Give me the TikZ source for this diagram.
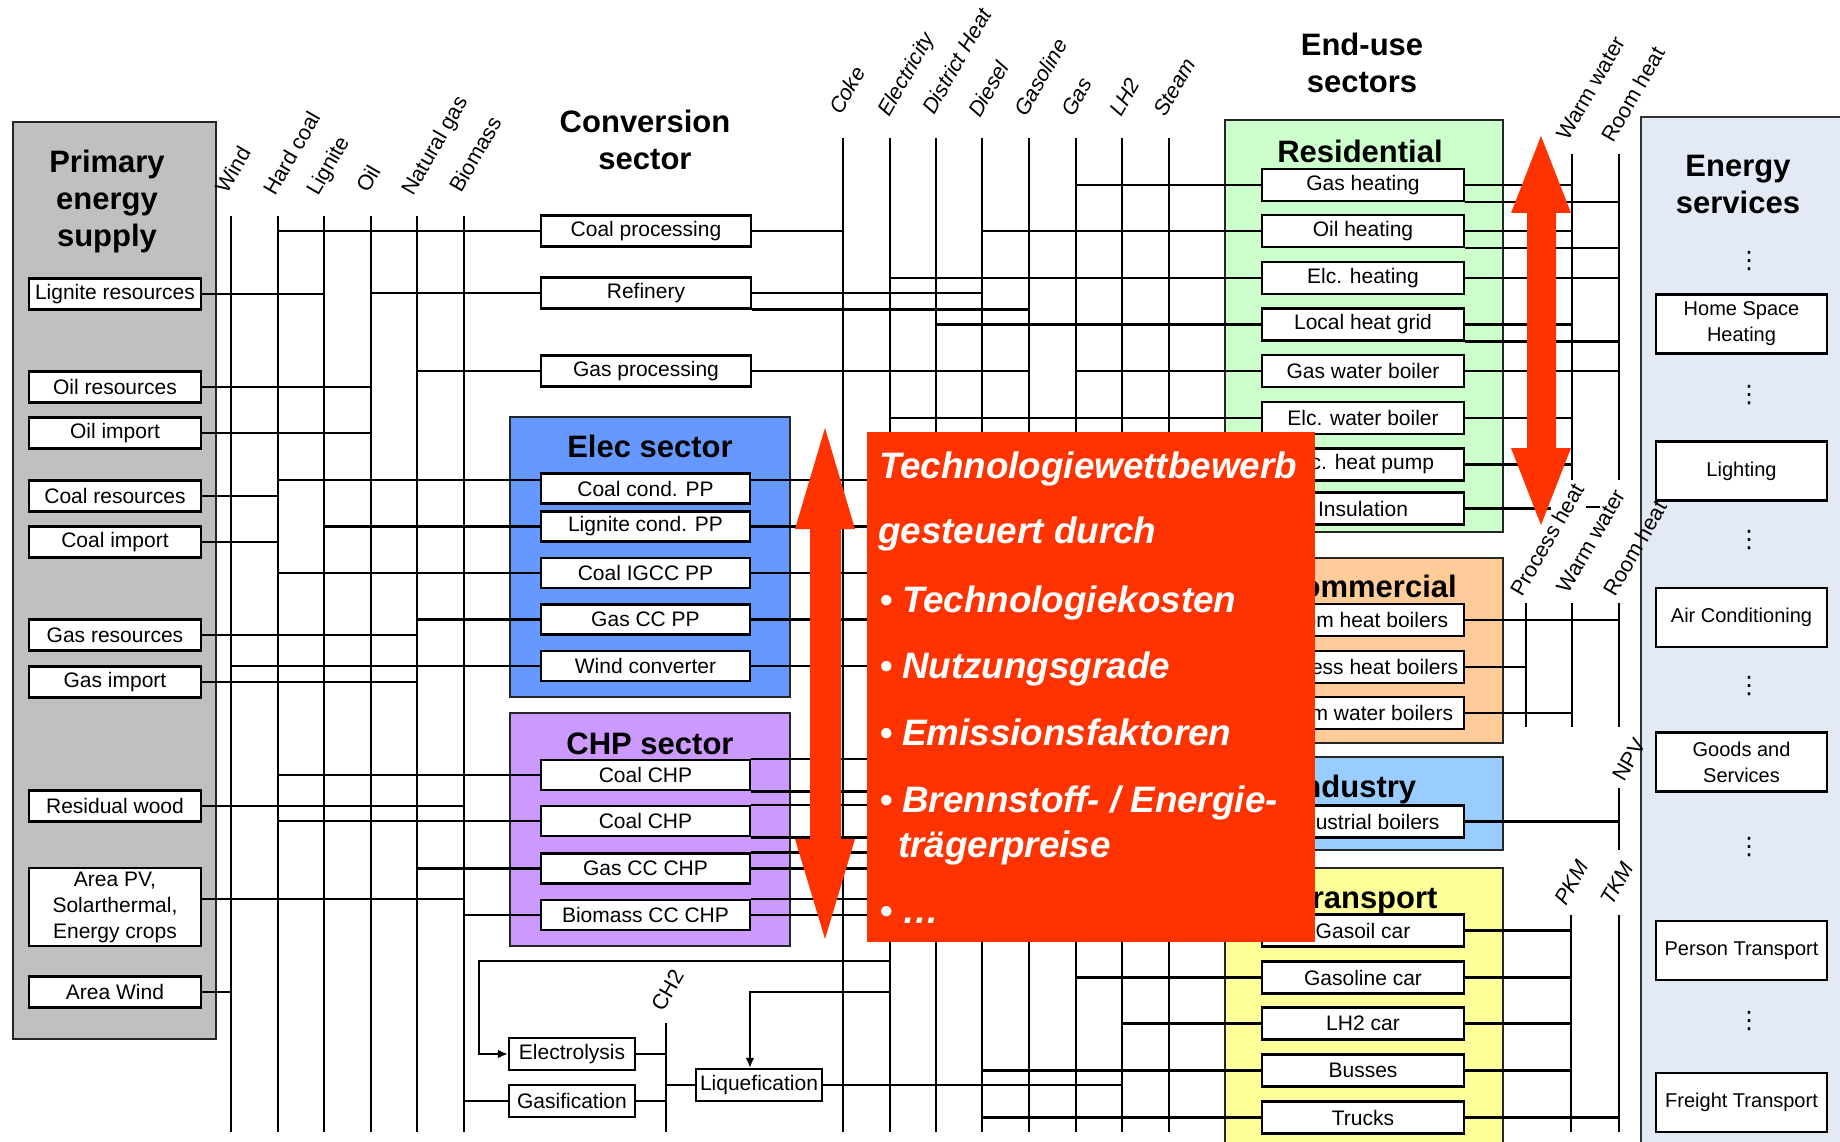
\documentclass[tikz,border=0pt]{standalone}
\usepackage{fontspec}
\setmainfont{Liberation Sans}
\newfontfamily\dejavu{DejaVu Sans}
\usetikzlibrary{arrows.meta,calc}
\pgfdeclarelayer{bg}\pgfdeclarelayer{wires}\pgfdeclarelayer{front}
\pgfsetlayers{bg,wires,main,front}
\definecolor{gbox}{RGB}{192,192,192}
\definecolor{resg}{RGB}{204,255,204}
\definecolor{comm}{RGB}{255,204,153}
\definecolor{indb}{RGB}{153,204,255}
\definecolor{trny}{RGB}{255,255,153}
\definecolor{elecb}{RGB}{102,153,255}
\definecolor{chpv}{RGB}{204,153,255}
\definecolor{serv}{RGB}{228,234,245}
\definecolor{redx}{RGB}{255,51,0}
\newcommand\fsz[2]{\fontsize{#1}{#2}\selectfont}
\begin{document}
\begin{tikzpicture}[x=1pt,y=-1pt,
 wire/.style={line width=2.6pt},
 thinw/.style={line width=2.2pt},
 sect/.style={draw=black!85,line width=2.4pt},
 bx/.style={draw,line width=2.4pt,fill=white,inner sep=0pt,minimum height=31pt,font=\fsz{21}{25}},
 pbx/.style={bx,minimum width=172pt},
 cbx/.style={bx,minimum width=210pt},
 ebx/.style={bx,minimum width=209pt,minimum height=30pt},
 rbx/.style={bx,minimum width=202pt,minimum height=32pt},
 sbx/.style={bx,minimum width=171pt,minimum height=59pt,align=center,font=\fsz{20}{26}},
 head/.style={font=\bfseries\fsz{31}{37},align=center,inner sep=0pt},
 shead/.style={font=\bfseries\fsz{31}{37},anchor=base,inner sep=0pt},
 plab/.style={rotate=60,anchor=base west,inner sep=0pt,font=\fsz{21.5}{25}},
 ilab/.style={plab,font=\itshape\fsz{21.5}{25}},
 redt/.style={text=white,font=\bfseries\itshape\fsz{36.8}{40},anchor=base west,inner sep=0pt},
 vd/.style={inner sep=0pt,font=\dejavu\fsz{24}{26}}
]
\useasboundingbox (0,0) rectangle (1840,1142);

% ---------- backgrounds ----------
\begin{pgfonlayer}{bg}
\fill[white] (0,0) rectangle (1840,1142);
\draw[sect,fill=gbox] (13,122) rectangle (216,1039);
\draw[sect,fill=elecb] (510,417) rectangle (790,697);
\draw[sect,fill=chpv] (510,713) rectangle (790,946);
\draw[sect,fill=resg] (1225,120) rectangle (1503,532);
\draw[sect,fill=comm] (1225,558) rectangle (1503,743);
\draw[sect,fill=indb] (1225,757) rectangle (1503,850);
\draw[sect,fill=trny] (1225,868) rectangle (1503,1170);
\draw[draw=black!80,line width=2.4pt,fill=serv] (1641,117) rectangle (1870,1170);
\end{pgfonlayer}

% ---------- column coordinates ----------
\foreach \nm/\x/\ya/\yb in {Wind/231/216/1132,Hard/278/216/1132,Lig/324/216/1132,Oil/371/216/1132,NG/417/216/1132,Bio/464/216/1132,
 Coke/843/138/1132,Elec/890/138/1132,DH/936/138/1132,Die/982/138/1132,Gsl/1029/138/1132,Gas/1076/138/1132,LH2/1122/138/1132,Stm/1169/138/1132,
 CH/666/1023/1132,RWW/1572/154/480,RRH/1619/154/480,CPH/1526/603/727,CWW/1572/603/727,CRH/1619/603/727,NPV/1619/788/850,PKM/1571/915/1132,TKM/1619/915/1132}
 {\coordinate (c\nm) at (\x,\ya); \coordinate (c\nm E) at (\x,\yb);}

% ---------- headings ----------
\node[head] (hprim) at (107,201) {Primary\\energy\\supply};
\node[head] (hconv) at (645,140) {Conversion\\sector};
\node[head] (hend) at (1362,63) {End-use\\sectors};
\node[head] (hserv) at (1738,184) {Energy\\services};
\node[shead] (hel) at (650,457) {Elec sector};
\node[shead] (hchp) at (650,754) {CHP sector};
\node[shead] (hres) at (1360,163) {Residential};
\node[shead] (hcom) at (1368,597) {Commercial};
\node[shead] (hind) at (1355,797) {Industry};
\node[shead] (htr) at (1366,908) {Transport};

% ---------- primary supply boxes ----------
\node[pbx] (ligres) at (115,294) {Lignite resources};
\node[pbx] (oilres) at (115,387) {Oil resources};
\node[pbx] (oilimp) at (115,433) {Oil import};
\node[pbx] (coalres) at (115,496) {Coal resources};
\node[pbx] (coalimp) at (115,542) {Coal import};
\node[pbx] (gasres) at (115,635) {Gas resources};
\node[pbx] (gasimp) at (115,682) {Gas import};
\node[pbx] (reswood) at (115,806) {Residual wood};
\node[pbx,minimum height=78pt,align=center,font=\fsz{21}{26}] (areapv) at (115,907) {Area PV,\\Solarthermal,\\Energy crops};
\node[pbx] (areawind) at (115,992) {Area Wind};

% ---------- conversion boxes ----------
\node[cbx] (coalproc) at (646,231) {Coal processing};
\node[cbx] (refinery) at (646,293) {Refinery};
\node[cbx] (gasproc) at (646,371) {Gas processing};
\node[ebx] (ccpp) at (645.5,488.5) {Coal cond. PP};
\node[ebx] (lcpp) at (645.5,526.5) {Lignite cond. PP};
\node[ebx] (igcc) at (645.5,573) {Coal IGCC PP};
\node[ebx] (gasccpp) at (645.5,619.5) {Gas CC PP};
\node[ebx] (windconv) at (645.5,666) {Wind converter};
\node[ebx] (coalchp1) at (645.5,775) {Coal CHP};
\node[ebx] (coalchp2) at (645.5,821) {Coal CHP};
\node[ebx] (gasccchp) at (645.5,868.5) {Gas CC CHP};
\node[ebx] (biochp) at (645.5,915) {Biomass CC CHP};
\node[bx,minimum width=126pt,minimum height=32pt] (electro) at (572,1054) {Electrolysis};
\node[bx,minimum width=126pt,minimum height=32pt] (gasif) at (572,1101) {Gasification};
\node[bx,minimum width=126pt,minimum height=32pt] (liquef) at (759,1085) {Liquefication};

% ---------- end-use boxes ----------
\node[rbx] (gasheat) at (1363,185) {Gas heating};
\node[rbx] (oilheat) at (1363,231) {Oil heating};
\node[rbx] (elcheat) at (1363,278) {Elc. heating};
\node[rbx] (localgrid) at (1363,324.5) {Local heat grid};
\node[rbx] (gaswb) at (1363,371) {Gas water boiler};
\node[rbx] (elcwb) at (1363,418) {Elc. water boiler};
\node[rbx] (heatpump) at (1363,464.5) {Elc. heat pump};
\node[rbx] (insul) at (1363,508.5) {Insulation};
\node[rbx] (rhboil) at (1363,620) {Room heat boilers};
\node[rbx] (phboil) at (1363,667) {Process heat boilers};
\node[rbx] (wwboil) at (1363,713) {Warm water boilers};
\node[rbx] (indboil) at (1363,821.5) {Industrial boilers};
\node[rbx] (gasoil) at (1363,930.5) {Gasoil car};
\node[rbx] (gasoline) at (1363,977.5) {Gasoline car};
\node[rbx] (lh2car) at (1363,1023.5) {LH2 car};
\node[rbx] (busses) at (1363,1070.5) {Busses};
\node[rbx] (trucks) at (1363,1117.5) {Trucks};

% ---------- energy services ----------
\node[sbx] (homesp) at (1741.5,324) {Home Space\\Heating};
\node[sbx] (lighting) at (1741.5,471) {Lighting};
\node[sbx] (aircon) at (1741.5,617.5) {Air Conditioning};
\node[sbx] (goods) at (1741.5,762) {Goods and\\Services};
\node[sbx] (person) at (1741.5,950.5) {Person Transport};
\node[sbx] (freight) at (1741.5,1102.5) {Freight Transport};
\foreach \yy [count=\i] in {261,395,540,686,847,1021} \node[vd] (vd\i) at (1749,\yy) {⋮};

% ---------- column labels ----------
\node[plab] (lWind) at (227,195) {Wind};
\node[plab] (lHard) at (275,197) {Hard coal};
\node[plab] (lLig) at (318,197) {Lignite};
\node[plab] (lOil) at (368,194) {Oil};
\node[plab] (lNG) at (413,197) {Natural gas};
\node[plab] (lBio) at (461,194) {Biomass};
\node[ilab] (lCoke) at (841,116) {Coke};
\node[ilab] (lElec) at (889,118) {Electricity};
\node[ilab] (lDH) at (934,116) {District Heat};
\node[ilab] (lDie) at (980,119) {Diesel};
\node[ilab] (lGsl) at (1026,118) {Gasoline};
\node[ilab] (lGas) at (1073,118) {Gas};
\node[ilab] (lLH2) at (1121,118) {LH2};
\node[ilab] (lStm) at (1165,118) {Steam};
\node[plab] (lRWW) at (1568,142) {Warm water};
\node[plab] (lRRH) at (1613,144) {Room heat};
\node[plab] (lCPH) at (1522,598) {Process heat};
\node[plab] (lCWW) at (1568,595) {Warm water};
\node[plab] (lCRH) at (1615,598) {Room heat};
\node[plab] (lNPV) at (1624,783) {NPV};
\node[ilab] (lPKM) at (1566,907) {PKM};
\node[ilab] (lTKM) at (1612,907) {TKM};
\node[plab] (lCH) at (663,1013) {CH2};

% ---------- wires ----------
\begin{pgfonlayer}{wires}
\foreach \nm in {Wind,Hard,Lig,Oil,NG,Bio,Coke,Elec,DH,Die,Gsl,Gas,LH2,Stm,CH,RWW,RRH,CPH,CWW,CRH,NPV,PKM,TKM}
 \draw[wire] (c\nm) -- (c\nm E);
% primary supply to carriers
\foreach \b/\c in {ligres/Lig,oilres/Oil,oilimp/Oil,coalres/Hard,coalimp/Hard,gasres/NG,gasimp/NG,reswood/Bio,areawind/Wind}
 \draw[wire] (\b.east) -- (\b.east -| c\c);
\coordinate (pvout) at ([yshift=8pt]areapv.east);
\draw[wire] (pvout) -- (pvout -| cBio);
% carriers to conversion
\foreach \b/\c in {coalproc/Hard,refinery/Oil,gasproc/NG,lcpp/Lig,igcc/Hard,gasccpp/NG,windconv/Wind,coalchp1/Hard,coalchp2/Hard,gasccchp/NG,biochp/Bio,gasif/Bio}
 \draw[wire] (\b.west -| c\c) -- (\b.west);
\coordinate (ccppin) at ([yshift=8.5pt]ccpp.west);
\draw[wire] (ccppin -| cHard) -- (ccppin);
% conversion outputs
\draw[wire] (coalproc.east) -- (coalproc.east -| cCoke);
\draw[wire] (refinery.east) -- (refinery.east -| cDie);
\draw[wire] (refinery.south east) -- (refinery.south east -| cGsl);
\draw[wire] (gasproc.east) -- (gasproc.east -| cGsl);
\coordinate (ccppout) at ([yshift=8.5pt]ccpp.east);
\draw[wire] (ccppout) -- (ccppout -| cElec);
\foreach \b in {lcpp,igcc,gasccpp,windconv} \draw[wire] (\b.east) -- (\b.east -| cElec);
\foreach \b in {coalchp1,coalchp2,gasccchp,biochp} \draw[wire] (\b.north east) -- (\b.north east -| cElec);
\draw[wire] (coalchp1.south east) -- (coalchp1.south east -| cDH);
\draw[wire] (coalchp2.south east) -- (coalchp2.south east -| cDH);
\draw[wire] (gasccchp.east) -- (gasccchp.east -| cDH);
\draw[wire] (biochp.east) -- (biochp.east -| cDH);
% hydrogen
\coordinate (elbend) at (479,961);
\draw[thinw,-{Latex[length=10pt,width=9pt]}] (elbend -| cElec) -- (elbend) |- (electro.west);
\coordinate (lqbend) at (750,992);
\draw[thinw,-{Latex[length=10pt,width=9pt]}] (lqbend -| cElec) -- (lqbend) -- (lqbend |- liquef.north);
\draw[wire] (electro.east) -- (electro.east -| cCH);
\draw[wire] (gasif.east) -- (gasif.east -| cCH);
\draw[wire] (liquef.west -| cCH) -- (liquef.west);
\draw[wire] (liquef.east) -- (liquef.east -| cLH2);
% residential
\foreach \b/\c in {gasheat/Gas,oilheat/Die,elcheat/Elec,localgrid/DH,gaswb/Gas,elcwb/Elec,heatpump/Elec}
 \draw[wire] (\b.west -| c\c) -- (\b.west);
\foreach \b/\c in {gasheat/RWW,oilheat/RWW,elcheat/RRH,localgrid/RWW,gaswb/RRH,elcwb/RWW,heatpump/RWW}
 \draw[wire] (\b.east) -- (\b.east -| c\c);
\foreach \b in {gasheat,oilheat,localgrid}
 \draw[wire] (\b.south east) -- (\b.south east -| cRRH);
\coordinate (insend) at (1551,508.5);
\draw[wire] (insul.east) -- (insul.east -| insend);
\coordinate (insst) at (1586,507);
\coordinate (insst2) at (1600,507);
\draw[wire] (insst) -- (insst2);
% commercial, industry
\draw[wire] (rhboil.east) -- (rhboil.east -| cCRH);
\draw[wire] (phboil.east) -- (phboil.east -| cCPH);
\draw[wire] (wwboil.east) -- (wwboil.east -| cCWW);
\draw[wire] (indboil.east) -- (indboil.east -| cNPV);
% transport
\foreach \b/\c in {gasoil/Die,gasoline/Gas,lh2car/LH2,busses/Die,trucks/Die}
 \draw[wire] (\b.west -| c\c) -- (\b.west);
\foreach \b/\c in {gasoil/PKM,gasoline/PKM,lh2car/PKM,busses/PKM,trucks/TKM}
 \draw[wire] (\b.east) -- (\b.east -| c\c);
\end{pgfonlayer}

% ---------- red overlay ----------
\begin{pgfonlayer}{front}
\fill[redx] (825,428) -- (855,529) -- (841,529) -- (841,839) -- (855,839) -- (825,939) -- (795,839) -- (810,839) -- (810,529) -- (795,529) -- cycle;
\fill[redx] (1541,136) -- (1571,213) -- (1556,213) -- (1556,448) -- (1571,448) -- (1541,525) -- (1511,448) -- (1527,448) -- (1527,213) -- (1511,213) -- cycle;
\node[fill=redx,inner sep=0pt,minimum width=448pt,minimum height=510pt,anchor=north west] (redbox) at (867,432) {};
\node[redt] (r1) at (879,478) {Technologiewettbewerb};
\node[redt] (r2) at (878,543) {gesteuert durch};
\node[redt,font=\bfseries\fsz{36}{40}] (b1) at (880,612) {•};
\node[redt] (r3) at (902,612) {Technologiekosten};
\node[redt,font=\bfseries\fsz{36}{40}] (b2) at (880,678) {•};
\node[redt] (r4) at (902,678) {Nutzungsgrade};
\node[redt,font=\bfseries\fsz{36}{40}] (b3) at (880,745) {•};
\node[redt] (r5) at (902,745) {Emissionsfaktoren};
\node[redt,font=\bfseries\fsz{36}{40}] (b4) at (880,812) {•};
\node[redt] (r6) at (902,812) {Brennstoff- / Energie-};
\node[redt] (r7) at (898,857) {trägerpreise};
\node[redt,font=\bfseries\fsz{36}{40}] (b5) at (880,923) {•};
\node[redt] (r8) at (902,923) {…};
\end{pgfonlayer}
\end{tikzpicture}
\end{document}
